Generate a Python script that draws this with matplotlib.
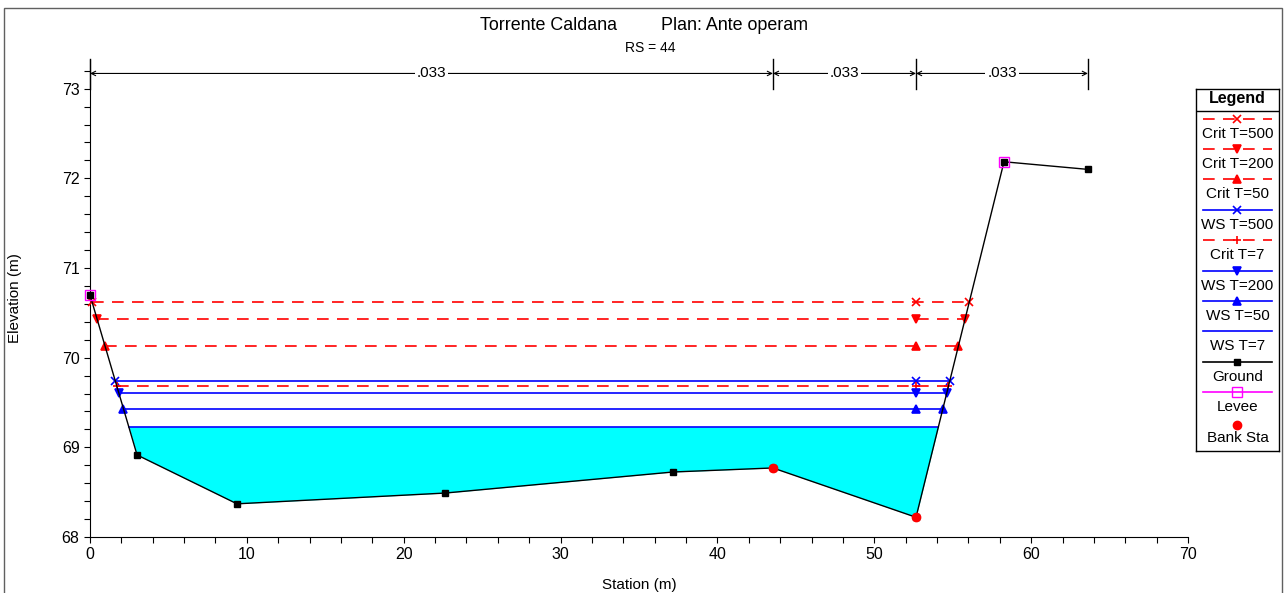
import numpy as np
import matplotlib
matplotlib.use("Agg")
import matplotlib.pyplot as plt
from matplotlib.patches import Rectangle

plt.rcParams['font.family'] = ['Liberation Sans', 'DejaVu Sans']

# ground profile
ground_x = [0.0, 3.0, 9.37, 22.63, 37.17, 43.54, 52.66, 58.27, 63.62]
ground_y = [70.70, 68.915, 68.37, 68.49, 68.725, 68.77, 68.22, 72.185, 72.10]

levee_x = [0.0, 58.27]
levee_y = [70.70, 72.185]

bank_x = [43.54, 52.66]
bank_y = [68.77, 68.22]

# manning n values and break stations
n_values = ['.033', '.033', '.033']
n_breaks = [0.0, 43.54, 52.66, 63.62]

# water surfaces, in legend order
ws_names = ['Crit T=500', 'Crit T=200', 'Crit T=50', 'WS T=500', 'Crit T=7',
            'WS T=200', 'WS T=50', 'WS T=7']
ws_elev = [70.62, 70.43, 70.13, 69.74, 69.68, 69.61, 69.43, 69.23]
ws_color = ['red', 'red', 'red', 'blue', 'red', 'blue', 'blue', 'blue']
ws_dash = [True, True, True, False, True, False, False, False]
ws_marker = ['x', 'v', '^', 'x', '+', 'v', '^', None]

DASH = (0, (7, 5))

W, H = 1286, 593
fig = plt.figure(figsize=(W / 100, H / 100), dpi=100)
ax = fig.add_axes([90 / W, 1 - 537 / H, (1188 - 90) / W, (537 - 60) / H])

gx = np.array(ground_x)
gy = np.array(ground_y)
imin = int(np.argmin(gy))


def bank_cross(z):
    """station where a water level meets the left and right bank of the ground line"""
    lx, ly = gx[:imin + 1][::-1], gy[:imin + 1][::-1]
    rx, ry = gx[imin:], gy[imin:]
    xl = np.interp(z, ly, lx)
    xr = np.interp(z, ry, rx)
    return xl, xr


# water fill for the lowest water surface
xl, xr = bank_cross(ws_elev[-1])
fx = np.linspace(xl, xr, 400)
fg = np.interp(fx, gx, gy)
ax.fill_between(fx, fg, ws_elev[-1], where=fg <= ws_elev[-1], color='cyan', lw=0, zorder=1)

for name, z, c, d, m in zip(ws_names, ws_elev, ws_color, ws_dash, ws_marker):
    xl, xr = bank_cross(z)
    ls = DASH if d else '-'
    ax.plot([xl, xr], [z, z], color=c, ls=ls, lw=1.2, zorder=2)
    if m is not None:
        ax.plot([xl, bank_x[1], xr], [z, z, z], ls='none', marker=m, color=c,
                ms=5.5, mew=1.2, zorder=3, clip_on=False)

ax.plot(ground_x, ground_y, color='black', lw=1, marker='s', ms=5, zorder=4, clip_on=False)
ax.plot(levee_x, levee_y, ls='none', marker='s', mfc='none', mec='magenta', ms=6.5, mew=1,
        zorder=5, clip_on=False)
ax.plot(bank_x, bank_y, ls='none', marker='o', color='red', ms=6, zorder=5, clip_on=False)

ax.set_xlim(0, 70)
ax.set_ylim(68, 73.32)
ax.set_xticks(np.arange(0, 71, 10))
ax.set_xticks(np.arange(0, 71, 2), minor=True)
ax.set_yticks(np.arange(68, 74, 1))
ax.set_yticks(np.arange(68, 73.3, 0.2), minor=True)
ax.tick_params(which='both', direction='out', length=4, width=0.8, labelsize=11.5)
for s in ['top', 'right']:
    ax.spines[s].set_visible(False)
ax.set_xlabel('Station (m)', fontsize=11)
ax.set_ylabel('Elevation (m)', fontsize=11)
ax.xaxis.set_label_coords(0.5, -0.085)
ax.yaxis.set_label_coords(-0.062, 0.5)

#n value dimension lines
ny = 73.17
for b in n_breaks:
    ax.plot([b, b], [73.0, 73.335], color='black', lw=1, clip_on=False, zorder=6)
for i, n in enumerate(n_values):
    a, b = n_breaks[i], n_breaks[i + 1]
    ax.annotate('', xy=(a, ny), xytext=(b, ny), xycoords='data',
                arrowprops=dict(arrowstyle='<->', color='black', lw=0.8,
                                shrinkA=0, shrinkB=0, mutation_scale=8),
                annotation_clip=False)
    ax.text((a + b) / 2, ny, n, ha='center', va='center', fontsize=11,
            bbox=dict(fc='white', ec='none', pad=1.5), zorder=7, clip_on=False)

# titles
fig.text(480 / W, 1 - 26 / H, 'Torrente Caldana', ha='left', va='center', fontsize=12.9)
fig.text(661 / W, 1 - 26 / H, 'Plan: Ante operam', ha='left', va='center', fontsize=12.9)
fig.text(650 / W, 1 - 48 / H, 'RS = 44', ha='center', va='center', fontsize=10)

# outer frame
fig.patches.append(Rectangle((4 / W, -0.05), (1282 - 4) / W, 1 - 8 / H + 0.05,
                             transform=fig.transFigure, fill=False, ec='#606060', lw=1))

#legend drawn by hand in pixel coordinates
lg = fig.add_axes([1196 / W, 1 - 451 / H, (1279 - 1196) / W, (451 - 89) / H])
lg.set_xlim(1196, 1279)
lg.set_ylim(451, 89)
lg.set_xticks([])
lg.set_yticks([])
for s in lg.spines.values():
    s.set_linewidth(1)
lg.text(1237.5, 99, 'Legend', ha='center', va='center', fontsize=11.5, fontweight='bold')
lg.plot([1196, 1279], [111, 111], color='black', lw=1)

leg_names = ws_names + ['Ground', 'Levee', 'Bank Sta']
leg_color = ws_color + ['black', 'magenta', 'red']
leg_dash = ws_dash + [False, False, False]
leg_marker = ws_marker + ['s', 's', 'o']
for i, (name, c, d, m) in enumerate(zip(leg_names, leg_color, leg_dash, leg_marker)):
    y = 118.5 + i * 30.4
    if name != 'Bank Sta':
        ls = DASH if d else '-'
        lg.plot([1203, 1272], [y, y], color=c, ls=ls, lw=1.2)
    if m is not None:
        if name == 'Levee':
            lg.plot([1237.5], [y], marker='s', mfc='none', mec=c, ms=6.5, ls='none')
        elif name == 'Ground':
            lg.plot([1237.5], [y], marker='s', color=c, ms=5, ls='none')
        elif name == 'Bank Sta':
            lg.plot([1237.5], [y + 2], marker='o', color=c, ms=6, ls='none')
        else:
            lg.plot([1237.5], [y], marker=m, color=c, ms=5.5, mew=1.2, ls='none')
    lg.text(1237.5, y + 15, name, ha='center', va='center', fontsize=11)

fig.savefig('out.png', dpi=100)
